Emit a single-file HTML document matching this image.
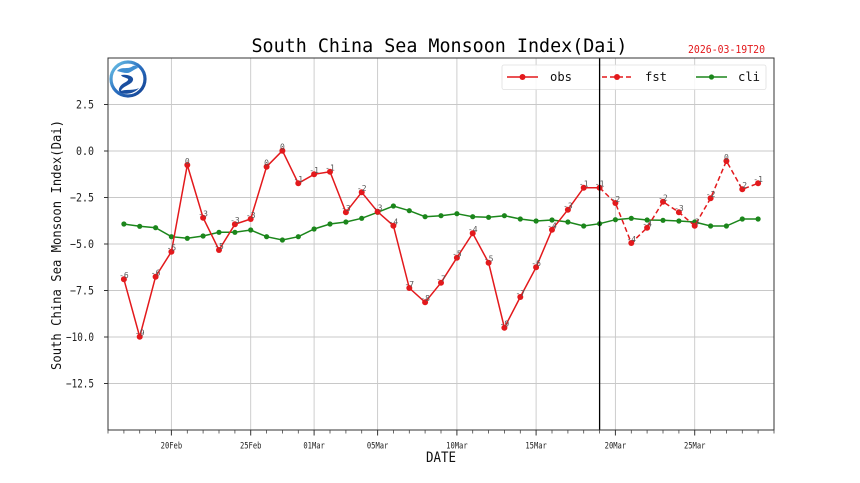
<!DOCTYPE html>
<html><head><meta charset="utf-8"><style>
html,body{margin:0;padding:0;background:#fff;}
svg{display:block;}
text{font-family:"DejaVu Sans Mono","Liberation Mono",monospace;}
</style></head><body>
<svg width="860" height="483" viewBox="0 0 860 483" xmlns="http://www.w3.org/2000/svg">
<defs>
<linearGradient id="lg" x1="0" y1="0" x2="1" y2="1">
<stop offset="0" stop-color="#6ec6e8"/><stop offset="0.5" stop-color="#2a6fc0"/><stop offset="1" stop-color="#123e8f"/>
</linearGradient>
</defs>
<rect width="860" height="483" fill="#fff"/>
<!-- grid -->
<g stroke="#c8c8c8" stroke-width="0.9">
<line x1="108" y1="104.5" x2="774" y2="104.5"/>
<line x1="108" y1="151" x2="774" y2="151"/>
<line x1="108" y1="197.5" x2="774" y2="197.5"/>
<line x1="108" y1="244" x2="774" y2="244"/>
<line x1="108" y1="290.5" x2="774" y2="290.5"/>
<line x1="108" y1="337" x2="774" y2="337"/>
<line x1="108" y1="383.5" x2="774" y2="383.5"/>
<line x1="171.4" y1="58" x2="171.4" y2="430"/>
<line x1="250.7" y1="58" x2="250.7" y2="430"/>
<line x1="314.1" y1="58" x2="314.1" y2="430"/>
<line x1="377.6" y1="58" x2="377.6" y2="430"/>
<line x1="456.9" y1="58" x2="456.9" y2="430"/>
<line x1="536.1" y1="58" x2="536.1" y2="430"/>
<line x1="615.4" y1="58" x2="615.4" y2="430"/>
<line x1="694.7" y1="58" x2="694.7" y2="430"/>
</g>
<!-- cli -->
<polyline fill="none" stroke="#1b861b" stroke-width="1.5" points="123.9,224 139.7,226.3 155.6,227.7 171.4,236.7 187.3,238.3 203.1,236 219,232.3 234.9,232.3 250.7,230 266.6,236.7 282.4,240 298.3,236.7 314.1,229 330,224 345.9,222 361.7,218.3 377.6,212.3 393.4,206 409.3,210.7 425.1,216.7 441,215.7 456.9,213.7 472.7,216.7 488.6,217.3 504.4,215.7 520.3,219 536.1,221 552,220 567.9,222 583.7,226 599.6,223.7 615.4,219.7 631.3,218.3 647.1,220 663,220.3 678.9,221 694.7,222 710.6,226 726.4,226 742.3,219 758.1,219"/>
<g fill="#1b861b">
<circle cx="123.9" cy="224" r="2.6"/><circle cx="139.7" cy="226.3" r="2.6"/><circle cx="155.6" cy="227.7" r="2.6"/><circle cx="171.4" cy="236.7" r="2.6"/><circle cx="187.3" cy="238.3" r="2.6"/><circle cx="203.1" cy="236" r="2.6"/><circle cx="219" cy="232.3" r="2.6"/><circle cx="234.9" cy="232.3" r="2.6"/><circle cx="250.7" cy="230" r="2.6"/><circle cx="266.6" cy="236.7" r="2.6"/><circle cx="282.4" cy="240" r="2.6"/><circle cx="298.3" cy="236.7" r="2.6"/><circle cx="314.1" cy="229" r="2.6"/><circle cx="330" cy="224" r="2.6"/><circle cx="345.9" cy="222" r="2.6"/><circle cx="361.7" cy="218.3" r="2.6"/><circle cx="377.6" cy="212.3" r="2.6"/><circle cx="393.4" cy="206" r="2.6"/><circle cx="409.3" cy="210.7" r="2.6"/><circle cx="425.1" cy="216.7" r="2.6"/><circle cx="441" cy="215.7" r="2.6"/><circle cx="456.9" cy="213.7" r="2.6"/><circle cx="472.7" cy="216.7" r="2.6"/><circle cx="488.6" cy="217.3" r="2.6"/><circle cx="504.4" cy="215.7" r="2.6"/><circle cx="520.3" cy="219" r="2.6"/><circle cx="536.1" cy="221" r="2.6"/><circle cx="552" cy="220" r="2.6"/><circle cx="567.9" cy="222" r="2.6"/><circle cx="583.7" cy="226" r="2.6"/><circle cx="599.6" cy="223.7" r="2.6"/><circle cx="615.4" cy="219.7" r="2.6"/><circle cx="631.3" cy="218.3" r="2.6"/><circle cx="647.1" cy="220" r="2.6"/><circle cx="663" cy="220.3" r="2.6"/><circle cx="678.9" cy="221" r="2.6"/><circle cx="694.7" cy="222" r="2.6"/><circle cx="710.6" cy="226" r="2.6"/><circle cx="726.4" cy="226" r="2.6"/><circle cx="742.3" cy="219" r="2.6"/><circle cx="758.1" cy="219" r="2.6"/>
</g>
<!-- obs -->
<polyline fill="none" stroke="#e3191c" stroke-width="1.5" points="123.9,279.3 139.7,336.7 155.6,276.7 171.4,251.7 187.3,165 203.1,217.7 219,250 234.9,224.3 250.7,219 266.6,166.7 282.4,150.7 298.3,183.3 314.1,174.3 330,171.7 345.9,212.3 361.7,192.3 377.6,211.7 393.4,225.7 409.3,288 425.1,302.3 441,282.7 456.9,257.7 472.7,233.3 488.6,262.7 504.4,327.7 520.3,297 536.1,267.3 552,229.7 567.9,209.7 583.7,187.7 599.6,187.7"/>
<!-- fst -->
<polyline fill="none" stroke="#e3191c" stroke-width="1.5" stroke-dasharray="5,3" points="599.6,187.7 615.4,203 631.3,243 647.1,227.7 663,201.7 678.9,212.3 694.7,225.7 710.6,198.3 726.4,161 742.3,189.3 758.1,183.3"/>
<g fill="#e3191c">
<circle cx="123.9" cy="279.3" r="3"/><circle cx="139.7" cy="336.7" r="3"/><circle cx="155.6" cy="276.7" r="3"/><circle cx="171.4" cy="251.7" r="3"/><circle cx="187.3" cy="165" r="3"/><circle cx="203.1" cy="217.7" r="3"/><circle cx="219" cy="250" r="3"/><circle cx="234.9" cy="224.3" r="3"/><circle cx="250.7" cy="219" r="3"/><circle cx="266.6" cy="166.7" r="3"/><circle cx="282.4" cy="150.7" r="3"/><circle cx="298.3" cy="183.3" r="3"/><circle cx="314.1" cy="174.3" r="3"/><circle cx="330" cy="171.7" r="3"/><circle cx="345.9" cy="212.3" r="3"/><circle cx="361.7" cy="192.3" r="3"/><circle cx="377.6" cy="211.7" r="3"/><circle cx="393.4" cy="225.7" r="3"/><circle cx="409.3" cy="288" r="3"/><circle cx="425.1" cy="302.3" r="3"/><circle cx="441" cy="282.7" r="3"/><circle cx="456.9" cy="257.7" r="3"/><circle cx="472.7" cy="233.3" r="3"/><circle cx="488.6" cy="262.7" r="3"/><circle cx="504.4" cy="327.7" r="3"/><circle cx="520.3" cy="297" r="3"/><circle cx="536.1" cy="267.3" r="3"/><circle cx="552" cy="229.7" r="3"/><circle cx="567.9" cy="209.7" r="3"/><circle cx="583.7" cy="187.7" r="3"/><circle cx="599.6" cy="187.7" r="3"/>
<circle cx="615.4" cy="203" r="3"/><circle cx="631.3" cy="243" r="3"/><circle cx="647.1" cy="227.7" r="3"/><circle cx="663" cy="201.7" r="3"/><circle cx="678.9" cy="212.3" r="3"/><circle cx="694.7" cy="225.7" r="3"/><circle cx="710.6" cy="198.3" r="3"/><circle cx="726.4" cy="161" r="3"/><circle cx="742.3" cy="189.3" r="3"/><circle cx="758.1" cy="183.3" r="3"/>
</g>
<!-- data labels -->
<g font-size="8" fill="#555" text-anchor="middle">
<text x="123.9" y="278">-6</text><text x="139.7" y="335.5">-9</text><text x="155.6" y="275.5">-6</text><text x="171.4" y="250.5">-5</text><text x="187.3" y="164">0</text><text x="203.1" y="216.5">-3</text><text x="219" y="249">-5</text><text x="234.9" y="223">-3</text><text x="250.7" y="218">-3</text><text x="266.6" y="165.5">0</text><text x="282.4" y="149.5">0</text><text x="298.3" y="182">-1</text><text x="314.1" y="173">-1</text><text x="330" y="170.5">-1</text><text x="345.9" y="211">-3</text><text x="361.7" y="191">-2</text><text x="377.6" y="210.5">-3</text><text x="393.4" y="224.5">-4</text><text x="409.3" y="287">-7</text><text x="425.1" y="301">-8</text><text x="441" y="281.5">-7</text><text x="456.9" y="256.5">-5</text><text x="472.7" y="232">-4</text><text x="488.6" y="261.5">-5</text><text x="504.4" y="326.5">-9</text><text x="520.3" y="296">-7</text><text x="536.1" y="266">-6</text><text x="552" y="228.5">-4</text><text x="567.9" y="208.5">-3</text><text x="583.7" y="186.5">-1</text><text x="599.6" y="186.5">-1</text>
<text x="615.4" y="202">-2</text><text x="631.3" y="242">-4</text><text x="647.1" y="226.5">-4</text><text x="663" y="200.5">-2</text><text x="678.9" y="211">-3</text><text x="694.7" y="224.5">-3</text><text x="710.6" y="197">-2</text><text x="726.4" y="160">0</text><text x="742.3" y="188">-2</text><text x="758.1" y="182">-1</text>
</g>
<!-- legend -->
<rect x="502" y="65" width="264" height="24.5" rx="2" fill="#fff" fill-opacity="0.85" stroke="#e0e0e0" stroke-width="0.8"/>
<line x1="507" y1="77" x2="538" y2="77" stroke="#e3191c" stroke-width="1.5"/><circle cx="522.5" cy="77" r="3" fill="#e3191c"/>
<text x="550" y="81" font-size="12.5" fill="#111" textLength="22" lengthAdjust="spacingAndGlyphs">obs</text>
<line x1="602" y1="77" x2="632" y2="77" stroke="#e3191c" stroke-width="1.5" stroke-dasharray="5,3"/><circle cx="617" cy="77" r="3" fill="#e3191c"/>
<text x="645" y="81" font-size="12.5" fill="#111" textLength="22" lengthAdjust="spacingAndGlyphs">fst</text>
<line x1="696" y1="77" x2="727" y2="77" stroke="#1b861b" stroke-width="1.5"/><circle cx="711.5" cy="77" r="2.6" fill="#1b861b"/>
<text x="738" y="81" font-size="12.5" fill="#111" textLength="22" lengthAdjust="spacingAndGlyphs">cli</text>
<!-- vertical line -->
<line x1="599.6" y1="58" x2="599.6" y2="430" stroke="#000" stroke-width="1.3"/>
<!-- axes frame -->
<rect x="108" y="58" width="666" height="372" fill="none" stroke="#333" stroke-width="1"/>
<!-- y ticks -->
<g stroke="#333" stroke-width="1">
<line x1="104" y1="104.5" x2="108" y2="104.5"/><line x1="104" y1="151" x2="108" y2="151"/><line x1="104" y1="197.5" x2="108" y2="197.5"/><line x1="104" y1="244" x2="108" y2="244"/><line x1="104" y1="290.5" x2="108" y2="290.5"/><line x1="104" y1="337" x2="108" y2="337"/><line x1="104" y1="383.5" x2="108" y2="383.5"/>
</g>
<g font-size="11.5" fill="#222" text-anchor="end">
<text x="94" y="108.5" textLength="18" lengthAdjust="spacingAndGlyphs">2.5</text>
<text x="94" y="155" textLength="18" lengthAdjust="spacingAndGlyphs">0.0</text>
<text x="94" y="201.5" textLength="24" lengthAdjust="spacingAndGlyphs">−2.5</text>
<text x="94" y="248" textLength="24" lengthAdjust="spacingAndGlyphs">−5.0</text>
<text x="94" y="294.5" textLength="24" lengthAdjust="spacingAndGlyphs">−7.5</text>
<text x="94" y="341" textLength="28" lengthAdjust="spacingAndGlyphs">−10.0</text>
<text x="94" y="387.5" textLength="28" lengthAdjust="spacingAndGlyphs">−12.5</text>
</g>
<!-- x ticks -->
<g stroke="#444" stroke-width="0.8">
<line x1="108" y1="430" x2="108" y2="433.5"/><line x1="123.9" y1="430" x2="123.9" y2="433.5"/><line x1="139.7" y1="430" x2="139.7" y2="433.5"/><line x1="155.6" y1="430" x2="155.6" y2="433.5"/><line x1="187.3" y1="430" x2="187.3" y2="433.5"/><line x1="203.1" y1="430" x2="203.1" y2="433.5"/><line x1="219" y1="430" x2="219" y2="433.5"/><line x1="234.9" y1="430" x2="234.9" y2="433.5"/><line x1="266.6" y1="430" x2="266.6" y2="433.5"/><line x1="282.4" y1="430" x2="282.4" y2="433.5"/><line x1="298.3" y1="430" x2="298.3" y2="433.5"/><line x1="330" y1="430" x2="330" y2="433.5"/><line x1="345.9" y1="430" x2="345.9" y2="433.5"/><line x1="361.7" y1="430" x2="361.7" y2="433.5"/><line x1="393.4" y1="430" x2="393.4" y2="433.5"/><line x1="409.3" y1="430" x2="409.3" y2="433.5"/><line x1="425.1" y1="430" x2="425.1" y2="433.5"/><line x1="441" y1="430" x2="441" y2="433.5"/><line x1="472.7" y1="430" x2="472.7" y2="433.5"/><line x1="488.6" y1="430" x2="488.6" y2="433.5"/><line x1="504.4" y1="430" x2="504.4" y2="433.5"/><line x1="520.3" y1="430" x2="520.3" y2="433.5"/><line x1="552" y1="430" x2="552" y2="433.5"/><line x1="567.9" y1="430" x2="567.9" y2="433.5"/><line x1="583.7" y1="430" x2="583.7" y2="433.5"/><line x1="599.6" y1="430" x2="599.6" y2="433.5"/><line x1="631.3" y1="430" x2="631.3" y2="433.5"/><line x1="647.1" y1="430" x2="647.1" y2="433.5"/><line x1="663" y1="430" x2="663" y2="433.5"/><line x1="678.9" y1="430" x2="678.9" y2="433.5"/><line x1="710.6" y1="430" x2="710.6" y2="433.5"/><line x1="726.4" y1="430" x2="726.4" y2="433.5"/><line x1="742.3" y1="430" x2="742.3" y2="433.5"/><line x1="758.1" y1="430" x2="758.1" y2="433.5"/><line x1="774" y1="430" x2="774" y2="433.5"/>
</g>
<g stroke="#333" stroke-width="1">
<line x1="171.4" y1="430" x2="171.4" y2="435.5"/><line x1="250.7" y1="430" x2="250.7" y2="435.5"/><line x1="314.1" y1="430" x2="314.1" y2="435.5"/><line x1="377.6" y1="430" x2="377.6" y2="435.5"/><line x1="456.9" y1="430" x2="456.9" y2="435.5"/><line x1="536.1" y1="430" x2="536.1" y2="435.5"/><line x1="615.4" y1="430" x2="615.4" y2="435.5"/><line x1="694.7" y1="430" x2="694.7" y2="435.5"/>
</g>
<g font-size="8.5" fill="#222" text-anchor="middle">
<text x="171.4" y="448.5" textLength="21.5" lengthAdjust="spacingAndGlyphs">20Feb</text>
<text x="250.7" y="448.5" textLength="21.5" lengthAdjust="spacingAndGlyphs">25Feb</text>
<text x="314.1" y="448.5" textLength="21.5" lengthAdjust="spacingAndGlyphs">01Mar</text>
<text x="377.6" y="448.5" textLength="21.5" lengthAdjust="spacingAndGlyphs">05Mar</text>
<text x="456.9" y="448.5" textLength="21.5" lengthAdjust="spacingAndGlyphs">10Mar</text>
<text x="536.1" y="448.5" textLength="21.5" lengthAdjust="spacingAndGlyphs">15Mar</text>
<text x="615.4" y="448.5" textLength="21.5" lengthAdjust="spacingAndGlyphs">20Mar</text>
<text x="694.7" y="448.5" textLength="21.5" lengthAdjust="spacingAndGlyphs">25Mar</text>
</g>
<!-- axis labels -->
<text x="441" y="462" font-size="14" fill="#111" text-anchor="middle" textLength="30" lengthAdjust="spacingAndGlyphs">DATE</text>
<text transform="translate(61,245) rotate(-90)" x="0" y="0" font-size="13" fill="#111" text-anchor="middle" textLength="250" lengthAdjust="spacingAndGlyphs">South China Sea Monsoon Index(Dai)</text>
<!-- title -->
<text x="251.5" y="52" font-size="19" fill="#000" textLength="376" lengthAdjust="spacingAndGlyphs">South China Sea Monsoon Index(Dai)</text>
<text x="688" y="53" font-size="10.5" fill="#e3191c" textLength="77" lengthAdjust="spacingAndGlyphs">2026-03-19T20</text>
<!-- logo -->
<g>
<circle cx="128" cy="79" r="17" fill="#fff" stroke="url(#lg)" stroke-width="3.2"/>
<path d="M117,71 C121,66 128,70 133,66 C135,65 137,66 138,68 C134,69 131,73 127,73 C124,73 121,72 117,71 Z" fill="#3f8fd2"/>
<path d="M121,75 C127,74 134,76 133,80 C132,85 122,86 121,91 C126,89 133,91 139,88 C135,93 127,95 121,93 C117,91 119,86 124,83 C128,81 130,79 126,78 C124,77 122,77 121,75 Z" fill="#1a4fa0"/>
</g>
</svg>
</body></html>
